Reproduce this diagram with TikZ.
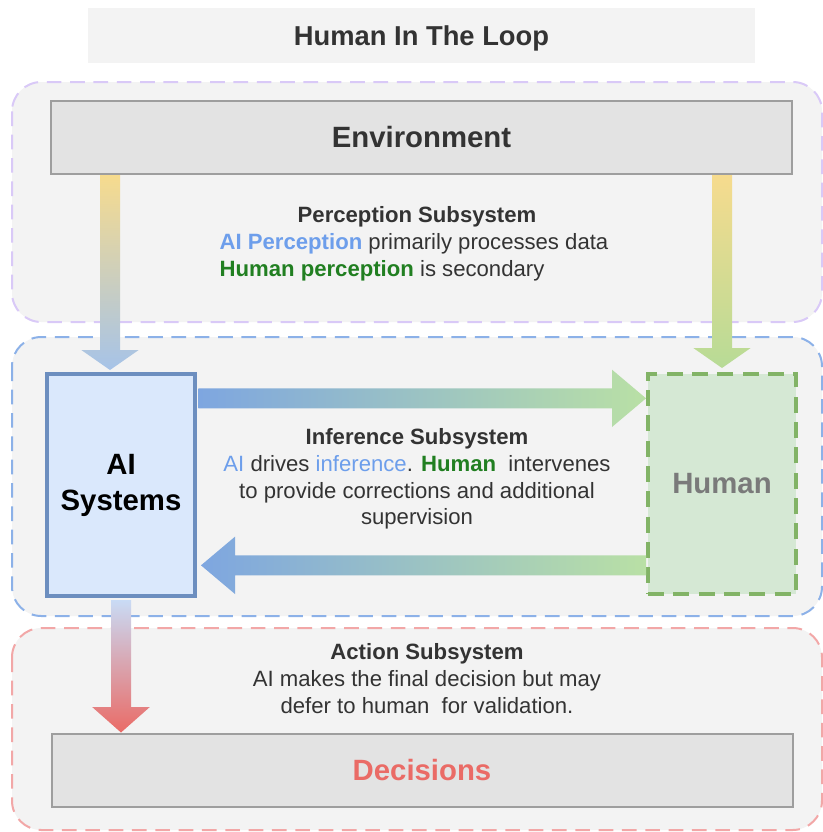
\documentclass[tikz,border=0pt]{standalone}
\usepackage{fontspec}
\setmainfont{Liberation Sans}
\usepackage{tikz}
\usepackage{xcolor}
\usetikzlibrary{calc, positioning}

\definecolor{panelgray}{HTML}{F3F3F3}
\definecolor{boxgray}{HTML}{E3E3E3}
\definecolor{edgegray}{HTML}{9E9E9E}
\definecolor{textgray}{HTML}{333333}
\definecolor{percline}{HTML}{D9C9F7}
\definecolor{infline}{HTML}{8CB1E8}
\definecolor{actline}{HTML}{F2A7A7}
\definecolor{aifill}{HTML}{DAE8FC}
\definecolor{aiedge}{HTML}{6C8EBF}
\definecolor{humfill}{HTML}{D5E8D4}
\definecolor{humedge}{HTML}{82B366}
\definecolor{aiblue}{HTML}{6D9EEB}
\definecolor{humgreen}{HTML}{217F21}
\definecolor{decred}{HTML}{EA6B66}
\definecolor{arryellow}{HTML}{F6DB8E}
\definecolor{arrblue}{HTML}{A6C3E8}
\definecolor{arrgreen}{HTML}{B7DB96}
\definecolor{flowblue}{HTML}{7EA6E0}
\definecolor{flowgreen}{HTML}{B9E0A5}
\definecolor{paleblue}{HTML}{C9DBF5}

% fat arrow with a colour gradient: #1 shading, #2 from, #3 to, #4 head length
\newcommand{\gradarrow}[4]{%
  \coordinate (ghb) at ($(#3)!#4!(#2)$);
  \shade[#1]
    ($(#2)!7.5pt!90:(#3)$) -- ($(ghb)!7.5pt!90:(#3)$) -- ($(ghb)!21.5pt!90:(#3)$) --
    (#3) -- ($(ghb)!21.5pt!-90:(#3)$) -- ($(ghb)!7.5pt!-90:(#3)$) --
    ($(#2)!7.5pt!-90:(#3)$) -- cycle;
}

\begin{document}
\begin{tikzpicture}[x=0.75pt, y=-0.75pt,
  panel/.style={fill=panelgray, line width=1.5pt, dash pattern=on 11pt off 6.5pt, rounded corners=22pt},
  graybox/.style={draw=edgegray, line width=1.5pt, fill=boxgray, minimum width=555.75pt,
    minimum height=54.75pt, font=\fontsize{22}{26}\selectfont\bfseries},
  subtext/.style={text=textgray, font=\fontsize{16.6}{20}\selectfont, inner sep=0pt}]
\useasboundingbox (0,0) rectangle (823,832);

% Subsystem panels
\draw[panel, draw=percline] (12,82) rectangle (822,322);
\draw[panel, draw=infline] (12,337) rectangle (822,616);
\draw[panel, draw=actline] (12,628) rectangle (822,830);

% Title
\node[fill=panelgray, minimum width=500pt, minimum height=41.25pt, text=textgray,
  text height=19pt, text depth=4pt,
  font=\fontsize{20.5}{24}\selectfont\bfseries] (title) at (421.5,35.5) {Human In The Loop};

% Environment and decisions
\node[graybox, text=textgray] (env) at (421.5,137.5) {Environment};
\node[graybox, text=decred] (dec) at (422,770) {Decisions};

% AI systems and human
\node[draw=aiedge, fill=aifill, line width=3pt, minimum width=111pt, minimum height=166.5pt,
  align=center, font=\fontsize{22}{27}\selectfont\bfseries] (ai) at (121,485) {AI\\Systems};
\node[draw=humedge, fill=humfill, line width=3pt, dash pattern=on 12pt off 7pt,
  minimum width=111pt, minimum height=165pt, text=black!52,
  font=\fontsize{22}{26}\selectfont\bfseries] (hum) at (722,484) {Human};

% Perception subsystem
\node[subtext, font=\fontsize{16.6}{20}\selectfont\bfseries] (perctitle) at (417,217) {Perception Subsystem};
\node[subtext, align=left, anchor=center] (perctext) at (414,257)
  {{\color{aiblue}\bfseries AI Perception} primarily processes data\\
   {\color{humgreen}\bfseries Human perception} is secondary};

% Inference subsystem
\node[subtext, align=center] (inftext) at (417,479)
  {\textbf{Inference Subsystem}\\
   {\color{aiblue}AI} drives {\color{aiblue}inference}. {\color{humgreen}\bfseries Human}~ intervenes\\
   to provide corrections and additional\\
   supervision};

% Action subsystem
\node[subtext, align=center, font=\fontsize{16.6}{20.25}\selectfont] (acttext) at (427,679)
  {\textbf{Action Subsystem}\\
   AI makes the final decision but may\\
   defer to human~ for validation.};

% Flows
\coordinate (inL) at ([xshift=-8.25pt, yshift=1.5pt]ai.north);
\coordinate (outL) at (env.south -| inL);
\gradarrow{top color=arryellow, bottom color=arrblue}{outL}{inL}{15pt}

\coordinate (inR) at ([yshift=3pt]hum.north);
\coordinate (outR) at (env.south -| inR);
\gradarrow{top color=arryellow, bottom color=arrgreen}{outR}{inR}{15pt}

\coordinate (fwdS) at ([xshift=1pt, yshift=65pt]ai.east);
\coordinate (fwdE) at (fwdS -| hum.west);
\gradarrow{left color=flowblue, right color=flowgreen}{fwdS}{fwdE}{25.5pt}

\coordinate (backS) at ([yshift=-61pt]hum.west);
\coordinate (backE) at ([xshift=3pt]backS -| ai.east);
\gradarrow{left color=flowblue, right color=flowgreen}{backS}{backE}{25.5pt}

\coordinate (outD) at ([yshift=-1.5pt]ai.south);
\coordinate (inD) at (outD |- dec.north);
\gradarrow{top color=paleblue, bottom color=decred}{outD}{inD}{19pt}
\end{tikzpicture}
\end{document}
